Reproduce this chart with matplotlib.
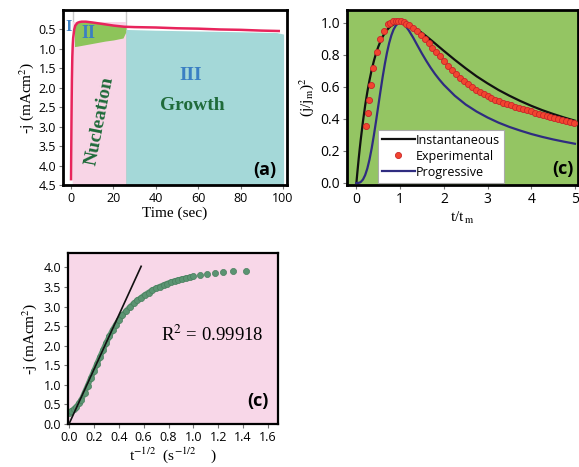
import matplotlib
matplotlib.use("Agg")
import matplotlib.pyplot as plt

plt.rcParams['mathtext.fontset'] = 'stix'
SERIF = 'Liberation Serif'
SANS = 'Open Sans'

# ---------------- Panel (a): chronoamperogram ----------------
a_time = [0.0, 0.1, 0.2, 0.3, 0.4, 0.6, 0.8, 1.0, 1.5, 2.0, 3.0, 4.0, 5.0, 7.0, 10.0,
          15.0, 20.0, 25.0, 30.0, 40.0, 50.0, 60.0, 70.0, 80.0, 90.0, 98.0]
a_j = [4.35, 3.6, 2.9, 2.3, 1.8, 1.2, 0.9, 0.72, 0.5, 0.40, 0.33, 0.31, 0.30, 0.30, 0.32,
       0.36, 0.40, 0.43, 0.44, 0.45, 0.47, 0.48, 0.50, 0.51, 0.53, 0.54]
# region shading (x, boundaries)
nuc_x = [0.9, 25.9]
nuc_top = [0.3, 0.3]
nuc_bottom = [4.5, 4.5]
ii_x = [1.6, 3.0, 5.0, 8.0, 12.0, 16.0, 20.0, 24.5, 25.9]
ii_top = [0.40, 0.33, 0.31, 0.31, 0.33, 0.36, 0.39, 0.42, 0.44]
ii_bottom = [0.94, 0.93, 0.91, 0.88, 0.84, 0.80, 0.77, 0.72, 0.56]
iii_x = [25.9, 40.0, 60.0, 80.0, 97.0, 100.3]
iii_top = [0.50, 0.52, 0.54, 0.56, 0.58, 0.62]
iii_bottom = [4.5, 4.5, 4.5, 4.5, 4.5, 4.5]
a_vlines = [0.9, 25.9]

# ---------------- Panel (c) top right: dimensionless transients ----------------
th_x = [0.0, 0.02, 0.05, 0.075, 0.1, 0.15, 0.2, 0.25, 0.3, 0.35, 0.4, 0.45, 0.5, 0.55, 0.6,
        0.65, 0.7, 0.75, 0.8, 0.85, 0.9, 0.95, 1.0, 1.05, 1.1, 1.15, 1.2, 1.3, 1.4, 1.5,
        1.6, 1.7, 1.8, 1.9, 2.0, 2.25, 2.5, 2.75, 3.0, 3.25, 3.5, 3.75, 4.0, 4.25, 4.5,
        4.75, 5.0]
inst_y = [0.0, 0.060, 0.145, 0.211, 0.272, 0.384, 0.483, 0.568, 0.642, 0.707, 0.762, 0.810,
          0.850, 0.884, 0.913, 0.936, 0.955, 0.970, 0.982, 0.990, 0.996, 0.999, 1.0, 0.999,
          0.996, 0.992, 0.987, 0.974, 0.956, 0.937, 0.916, 0.894, 0.871, 0.848, 0.825,
          0.769, 0.716, 0.666, 0.622, 0.581, 0.545, 0.512, 0.482, 0.455, 0.431, 0.409, 0.389]
prog_y = [0.0, 0.0001, 0.0008, 0.0028, 0.0065, 0.0214, 0.049, 0.0905, 0.147, 0.217, 0.298,
          0.387, 0.480, 0.572, 0.661, 0.742, 0.814, 0.874, 0.922, 0.958, 0.982, 0.996, 1.0,
          0.996, 0.986, 0.971, 0.952, 0.907, 0.857, 0.808, 0.762, 0.719, 0.680, 0.645,
          0.613, 0.545, 0.490, 0.446, 0.409, 0.377, 0.350, 0.327, 0.306, 0.288, 0.272,
          0.258, 0.245]
exp_x = [0.23, 0.27, 0.29, 0.33, 0.38, 0.47, 0.55, 0.63, 0.72, 0.78, 0.84, 0.90, 0.96, 1.02,
         1.08, 1.14, 1.20, 1.29, 1.38, 1.47, 1.56, 1.65, 1.74, 1.83, 1.92, 2.01, 2.10, 2.19,
         2.28, 2.37, 2.46, 2.55, 2.64, 2.73, 2.82, 2.91, 3.00, 3.09, 3.18, 3.27, 3.36, 3.45,
         3.54, 3.63, 3.72, 3.81, 3.90, 3.99, 4.08, 4.17, 4.26, 4.35, 4.44, 4.53, 4.62, 4.71,
         4.80, 4.89, 4.98]
exp_y = [0.355, 0.435, 0.52, 0.61, 0.715, 0.815, 0.90, 0.95, 0.99, 1.0, 1.01, 1.012, 1.012,
         1.01, 1.005, 0.995, 0.985, 0.968, 0.95, 0.925, 0.90, 0.875, 0.845, 0.815, 0.79, 0.762,
         0.733, 0.705, 0.68, 0.655, 0.635, 0.615, 0.598, 0.582, 0.567, 0.554, 0.542, 0.531,
         0.521, 0.511, 0.502, 0.493, 0.485, 0.477, 0.469, 0.461, 0.454, 0.447, 0.440, 0.433,
         0.426, 0.420, 0.413, 0.407, 0.400, 0.393, 0.386, 0.379, 0.372]

# ---------------- Panel (c) bottom: j vs t^-1/2 ----------------
c_x = [0.00, 0.02, 0.04, 0.06, 0.08, 0.10, 0.125, 0.15, 0.175, 0.20, 0.225, 0.25, 0.275, 0.30,
       0.325, 0.35, 0.375, 0.40, 0.43, 0.46, 0.49, 0.52, 0.55, 0.58, 0.61, 0.64, 0.67, 0.70,
       0.73, 0.76, 0.79, 0.82, 0.85, 0.88, 0.91, 0.94, 0.97, 1.00,
       1.05, 1.11, 1.17, 1.24, 1.32, 1.42]
c_y = [0.28, 0.33, 0.38, 0.44, 0.53, 0.62, 0.80, 0.98, 1.17, 1.35, 1.54, 1.72, 1.90, 2.08,
       2.24, 2.40, 2.53, 2.66, 2.78, 2.89, 2.99, 3.08, 3.16, 3.23, 3.30, 3.36, 3.42, 3.47,
       3.51, 3.55, 3.59, 3.625, 3.655, 3.68, 3.705, 3.725, 3.745, 3.77,
       3.80, 3.84, 3.87, 3.89, 3.91, 3.92]
fit_x = [0.0, 0.58]
fit_y = [0.0, 4.03]
r2_text = "R$^2$ = 0.99918"

W, H = 579, 467
fig = plt.figure(figsize=(W / 100, H / 100), dpi=100)
fig.patch.set_facecolor('white')


def frac(l, t, r, b):
    return [l / W, 1 - b / H, (r - l) / W, (b - t) / H]


def style(ax, lw=2.0, fs=9):
    for s in ax.spines.values():
        s.set_linewidth(lw)
        s.set_color('black')
    ax.tick_params(direction='out', length=3, width=0.8, color='#777777',
                   labelsize=fs, pad=2)
    for lab in ax.get_xticklabels() + ax.get_yticklabels():
        lab.set_family(SANS)


# ---- panel (a)
ax1 = fig.add_axes(frac(63, 10, 287, 185))
ax1.set_xlim(-3.8, 101.9)
ax1.set_ylim(4.5, 0.0)
ax1.vlines(a_vlines, 0.0, 4.5, color='#c9c9c9', lw=1.0, zorder=0.5)
ax1.fill_between(nuc_x, nuc_top, nuc_bottom, color='#f8d5e6', lw=0, zorder=1)
ax1.fill_between(ii_x, ii_top, ii_bottom, color='#8dc45a', lw=0, zorder=2)
ax1.fill_between(iii_x, iii_top, iii_bottom, color='#a4d8d8', lw=0, zorder=2)
ax1.plot(a_time, a_j, color='#e8245c', lw=1.8, zorder=3)
ax1.set_xticks([0, 20, 40, 60, 80, 100])
ax1.set_yticks([0.5, 1.0, 1.5, 2.0, 2.5, 3.0, 3.5, 4.0, 4.5])
ax1.set_yticklabels(['0.5', '1.0', '1.5', '2.0', '2.5', '3.0', '3.5', '4.0', '4.5'])
style(ax1, lw=2.0, fs=9)
ax1.set_xlabel('Time (sec)', family=SERIF, fontsize=11, labelpad=1)
ax1.set_ylabel('-j (mAcm$^2$)', family=SERIF, fontsize=11, labelpad=2)
blue = '#3a7fc3'
dgreen = '#1f6b3a'
ax1.text(-1.2, 0.43, 'I', color=blue, family=SERIF, fontweight='bold', fontsize=12,
         ha='center', va='center', zorder=4)
ax1.text(8.3, 0.6, 'II', color=blue, family=SERIF, fontweight='bold', fontsize=13,
         ha='center', va='center', zorder=4)
ax1.text(56.5, 1.69, 'III', color=blue, family=SERIF, fontweight='bold', fontsize=14,
         ha='center', va='center', zorder=4)
ax1.text(57, 2.46, 'Growth', color=dgreen, family=SERIF, fontweight='bold', fontsize=14,
         ha='center', va='center', zorder=4)
ax1.text(13.8, 2.85, 'Nucleation', color=dgreen, family=SERIF, fontweight='bold',
         fontsize=14, ha='center', va='center', rotation=79, zorder=4)
ax1.text(91.5, 4.12, '(a)', color='black', family=SANS, fontweight='bold', fontsize=13,
         ha='center', va='center', zorder=4)

# ---- panel (c) top right
ax2 = fig.add_axes(frac(347, 10, 578, 185))
ax2.set_facecolor('#94c563')
ax2.set_xlim(-0.215, 5.07)
ax2.set_ylim(-0.0125, 1.08)
l_inst, = ax2.plot(th_x, inst_y, color='#111111', lw=1.6, label='Instantaneous', zorder=3)
l_exp, = ax2.plot(exp_x, exp_y, ls='none', marker='o', ms=4.4, mfc='#f2452f',
                  mec='#c8262a', mew=0.6, label='Experimental', zorder=4)
l_prog, = ax2.plot(th_x, prog_y, color='#2f2c80', lw=1.6, label='Progressive', zorder=3)
ax2.set_xticks([0, 1, 2, 3, 4, 5])
ax2.set_yticks([0.0, 0.2, 0.4, 0.6, 0.8, 1.0])
ax2.set_yticklabels(['0.0', '0.2', '0.4', '0.6', '0.8', '1.0'])
style(ax2, lw=2.0, fs=10)
ax2.set_xlabel('t/t$_{\\,\\mathrm{m}}$', family=SERIF, fontsize=11, labelpad=2)
ax2.set_ylabel('(j/j$_\\mathrm{m}$)$^2$', family=SERIF, fontsize=11, labelpad=3)
leg = ax2.legend(handles=[l_inst, l_exp, l_prog], loc='lower left',
                 bbox_to_anchor=(0.125, 0.0), prop={'family': SANS, 'size': 9},
                 frameon=True, fancybox=False, framealpha=1, edgecolor='#aaaaaa',
                 handlelength=2.6, handletextpad=0.1, borderpad=0.3, labelspacing=0.25,
                 borderaxespad=0.2)
leg.get_frame().set_linewidth(0.8)
ax2.text(4.72, 0.09, '(c)', color='black', family=SANS, fontweight='bold', fontsize=13,
         ha='center', va='center', zorder=5)

# ---- panel (c) bottom
ax3 = fig.add_axes(frac(68, 253, 278, 424))
ax3.set_facecolor('#f8d7e8')
ax3.set_xlim(-0.008, 1.68)
ax3.set_ylim(0.0, 4.37)
n_dense = 38
ax3.plot(c_x[:n_dense], c_y[:n_dense], color='#5b9472', lw=4.0, solid_capstyle='round',
         zorder=2)
ax3.plot(c_x, c_y, ls='none', marker='o', ms=4.4, mfc='#5b9472', mec='#4a7f5f', mew=0.5,
         zorder=2)
ax3.plot(fit_x, fit_y, color='#111111', lw=1.2, zorder=3)
ax3.set_xticks([0.0, 0.2, 0.4, 0.6, 0.8, 1.0, 1.2, 1.4, 1.6])
ax3.set_xticklabels(['0.0', '0.2', '0.4', '0.6', '0.8', '1.0', '1.2', '1.4', '1.6'])
ax3.set_yticks([0.0, 0.5, 1.0, 1.5, 2.0, 2.5, 3.0, 3.5, 4.0])
ax3.set_yticklabels(['0.0', '0.5', '1.0', '1.5', '2.0', '2.5', '3.0', '3.5', '4.0'])
style(ax3, lw=1.6, fs=9)
ax3.set_xlabel('t$^{-1/2}$  (s$^{-1/2}$    )', family=SERIF, fontsize=11, labelpad=1)
ax3.set_ylabel('-j (mAcm$^2$)', family=SERIF, fontsize=11, labelpad=3)
ax3.text(1.15, 2.28, r2_text, family=SERIF, fontsize=13.5, ha='center', va='center')
ax3.text(1.52, 0.6, '(c)', color='black', family=SANS, fontweight='bold', fontsize=13,
         ha='center', va='center')

fig.savefig('out.png', dpi=100)
